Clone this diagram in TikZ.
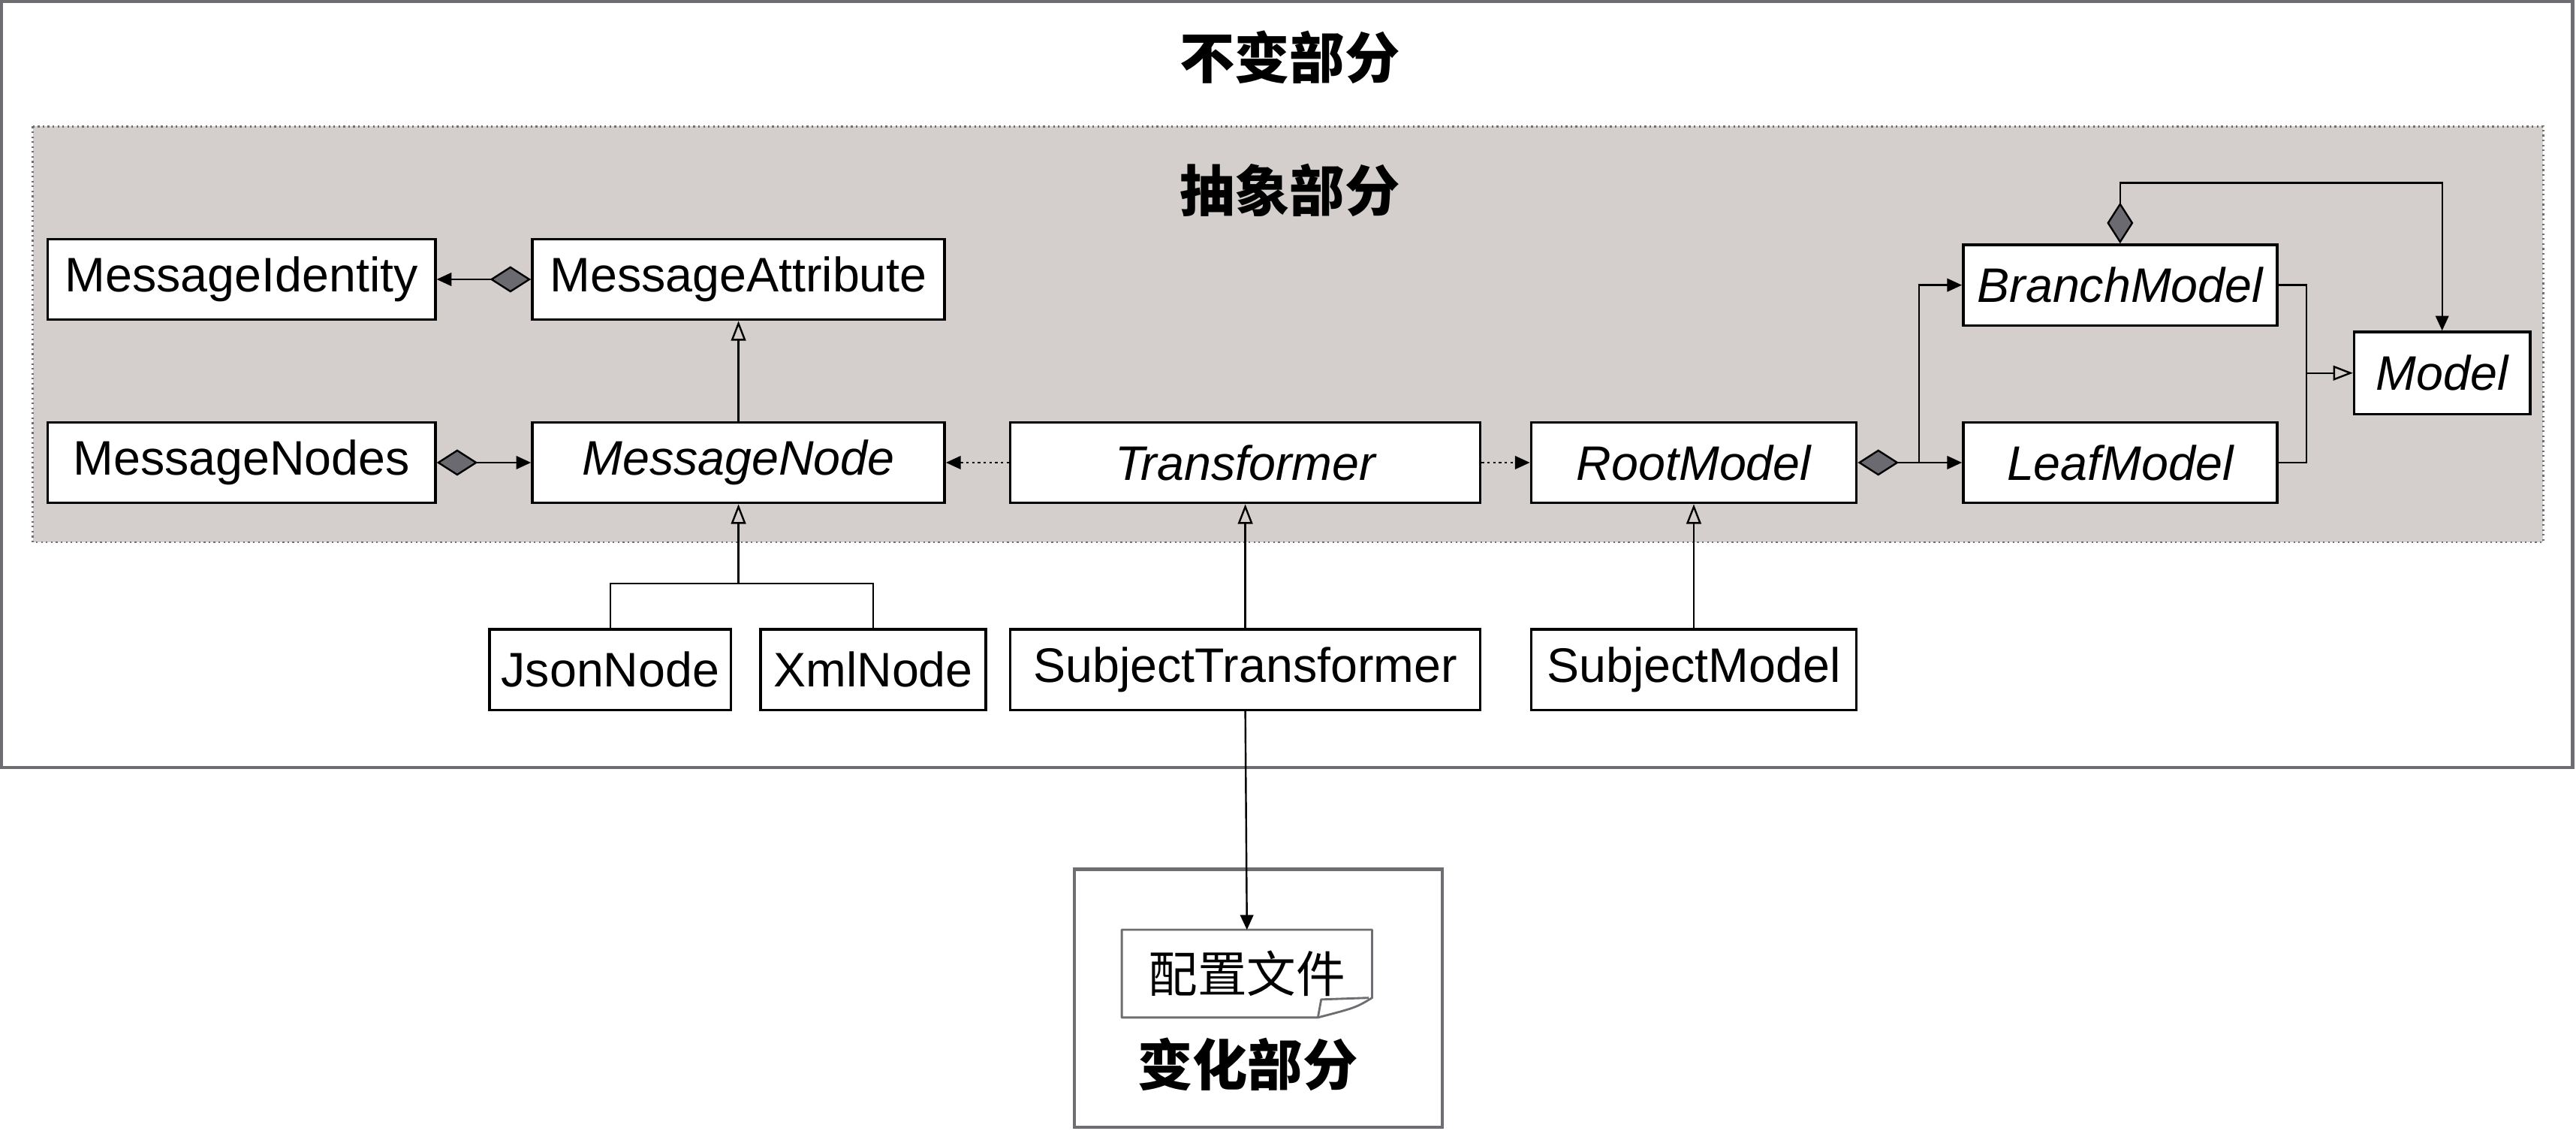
\documentclass[tikz,border=0pt]{standalone}
\usepackage{fontspec}
\setmainfont{Liberation Sans}
\newfontfamily\cjk{Noto Sans CJK SC}
\usetikzlibrary{arrows.meta}
\definecolor{abstractbg}{RGB}{212,207,204}
\definecolor{framegray}{RGB}{110,110,114}
\definecolor{diamondgray}{RGB}{107,106,112}

\begin{document}
\begin{tikzpicture}[x=1pt,y=-1pt,
    cls/.style={draw,line width=1.6pt,fill=white,inner sep=0pt,minimum height=49pt,font=\fontsize{29.5}{34}\selectfont},
    abs/.style={cls,font=\fontsize{29.5}{34}\selectfont\itshape},
    title/.style={font=\fontsize{33.5}{38}\selectfont\cjk\bfseries},
    rel/.style={line width=1.1pt},
    agg/.style={rel,arrows={Diamond[length=25pt,width=16pt,fill=diamondgray]-Triangle[length=9pt,width=8pt]}},
    gen/.style={rel,-{Triangle[open,length=12pt,width=9pt]}},
    dep/.style={rel,dash pattern=on 1.5pt off 2pt,-{Triangle[length=9pt,width=8pt]}},
    assoc/.style={rel,-{Triangle[length=9pt,width=8pt]}}]
    \useasboundingbox (0,0) rectangle (1568,688);
    \draw[framegray,line width=2pt] (1,1) rectangle (1566,467);
    \fill[abstractbg] (20,77) rectangle (1548,330);
    \draw[framegray,line width=1.2pt,dash pattern=on 1pt off 2pt] (20,77) rectangle (1548,330);
    \draw[framegray,line width=2pt] (654,529) rectangle (878,686);
    \node[title] (fixed) at (785,35) {不变部分};
    \node[title] (abstract) at (785,116) {抽象部分};
    \node[title] (varying) at (759.5,647.5) {变化部分};
    \node[cls,minimum width=236pt] (mi) at (147,170) {MessageIdentity};
    \node[cls,minimum width=251pt] (ma) at (449.5,170) {MessageAttribute};
    \node[cls,minimum width=236pt] (mns) at (147,281.5) {MessageNodes};
    \node[abs,minimum width=251pt] (mn) at (449.5,281.5) {MessageNode};
    \node[abs,minimum width=286pt] (tf) at (758,281.5) {Transformer};
    \node[abs,minimum width=198pt] (rm) at (1031,281.5) {RootModel};
    \node[abs,minimum width=191pt] (lm) at (1290.5,281.5) {LeafModel};
    \node[abs,minimum width=191pt] (bm) at (1290.5,173.5) {BranchModel};
    \node[abs,minimum width=107pt,minimum height=50pt] (mo) at (1486.5,227) {Model};
    \node[cls,minimum width=147pt] (jn) at (371.5,407.5) {JsonNode};
    \node[cls,minimum width=137pt] (xn) at (531.5,407.5) {XmlNode};
    \node[cls,minimum width=286pt] (stf) at (758,407.5) {SubjectTransformer};
    \node[cls,minimum width=198pt] (sm) at (1031,407.5) {SubjectModel};
    \node[font=\fontsize{30}{34}\selectfont\cjk,minimum width=152pt,minimum height=53pt,inner sep=0pt] (cfg) at (759,592.5) {配置文件};
    \draw[framegray,line width=1.3pt,line join=round] (cfg.north west) -- (cfg.north east) -- ([yshift=12pt]cfg.south east) .. controls ([xshift=-10pt,yshift=6pt]cfg.south east) .. ([xshift=-33pt]cfg.south east) -- (cfg.south west) -- cycle;
    \draw[framegray,line width=1.3pt,line join=round] ([xshift=-33pt]cfg.south east) -- ([xshift=-31pt,yshift=11pt]cfg.south east) -- ([xshift=-2pt,yshift=12pt]cfg.south east);
    \coordinate (rj) at (1168,281.5);
    \coordinate (gj) at (1404,227);
    \coordinate (bar) at (449.5,355);
    \draw[agg] (ma.west) -- (mi.east);
    \draw[agg] (mns.east) -- (mn.west);
    \draw[gen] (mn.north) -- (ma.south);
    \draw[dep] (tf.west) -- (mn.east);
    \draw[dep] (tf.east) -- (rm.west);
    \draw[agg] (rm.east) -- (lm.west);
    \draw[assoc] (rj) |- (bm.west);
    \draw[agg] (bm.north) -- ++(0,-37) -| (mo.north);
    \draw[rel] (bm.east) -| (gj) |- (lm.east);
    \draw[gen] (gj) -- (mo.west);
    \draw[rel] (jn.north) |- (bar) -| (xn.north);
    \draw[gen] (bar) -- (mn.south);
    \draw[gen] (stf.north) -- (tf.south);
    \draw[gen] (sm.north) -- (rm.south);
    \draw[assoc] (stf.south) -- (cfg.north);
\end{tikzpicture}
\end{document}
